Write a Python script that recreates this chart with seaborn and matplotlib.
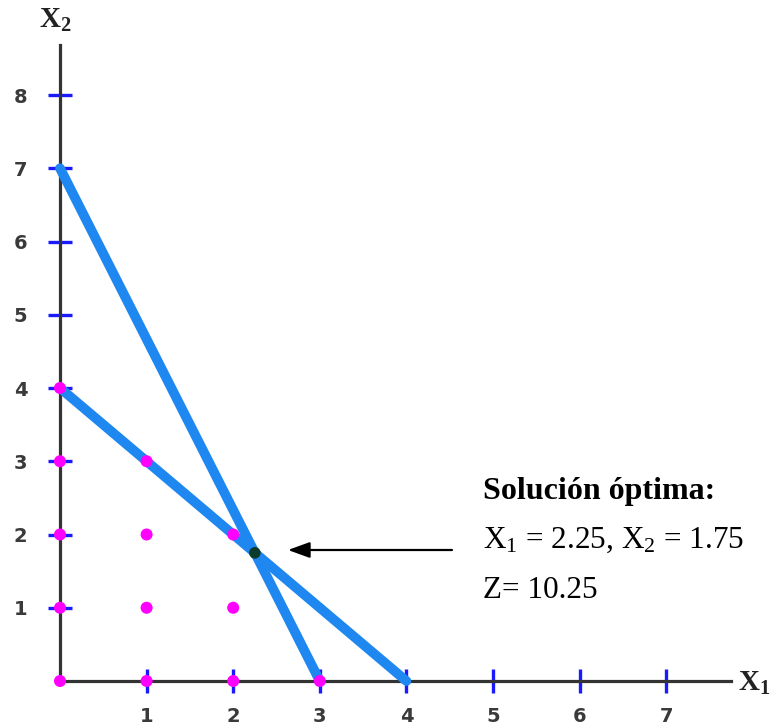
import numpy as np
import pandas as pd
import matplotlib
matplotlib.use("Agg")
import matplotlib.pyplot as plt
import seaborn as sns

# --- data ---
x_ticks = [1, 2, 3, 4, 5, 6, 7]
y_ticks = [1, 2, 3, 4, 5, 6, 7, 8]
# constraint 1: 7 x1 + 3 x2 = 21
c1_x1 = [0, 3]
c1_x2 = [7, 0]
# constraint 2: x1 + x2 = 4
c2_x1 = [0, 4]
c2_x2 = [4, 0]
# integer feasible points
pts_x1 = [0, 1, 2, 3, 0, 1, 2, 0, 1, 2, 0, 1, 0]
pts_x2 = [0, 0, 0, 0, 1, 1, 1, 2, 2, 2, 3, 3, 4]
opt_x1 = [2.25]
opt_x2 = [1.75]
title_txt = "Solución óptima:"
sol_txt = "X$_1$ = 2.25, X$_2$ = 1.75"
z_txt = "Z= 10.25"

sns.set_theme(style="white")
plt.rcParams["mathtext.fontset"] = "custom"
plt.rcParams["mathtext.rm"] = "Liberation Serif"
plt.rcParams["mathtext.it"] = "Liberation Serif:italic"
plt.rcParams["mathtext.bf"] = "Liberation Serif:bold"

W, H = 771, 728
fig = plt.figure(figsize=(W / 100, H / 100), dpi=100)
ax = fig.add_axes([0, 0, 1, 1])

# pixel mapping
x0px, y0px = 60, 681
ux, uy = 86.6, 73.25
ax.set_xlim(-x0px / ux, (W - x0px) / ux)
ax.set_ylim(-(H - y0px) / uy, y0px / uy)

blue = "#1e88f0"
df1 = pd.DataFrame({"x1": c1_x1, "x2": c1_x2})
df2 = pd.DataFrame({"x1": c2_x1, "x2": c2_x2})
sns.lineplot(data=df1, x="x1", y="x2", ax=ax, color=blue, lw=7,
             solid_capstyle="round", zorder=3, sort=False)
sns.lineplot(data=df2, x="x1", y="x2", ax=ax, color=blue, lw=7,
             solid_capstyle="round", zorder=3, sort=False)

dfp = pd.DataFrame({"x1": pts_x1, "x2": pts_x2})
sns.scatterplot(data=dfp, x="x1", y="x2", ax=ax, color="#ff00ff", s=75,
                edgecolor="none", zorder=5)
sns.scatterplot(x=opt_x1, y=opt_x2, ax=ax, color="#0d3b2b", s=70,
                edgecolor="none", zorder=6)

# axes (spines through origin)
for s in ["top", "right"]:
    ax.spines[s].set_visible(False)
for s in ["left", "bottom"]:
    ax.spines[s].set_position(("data", 0))
    ax.spines[s].set_color("#333333")
    ax.spines[s].set_linewidth(2.3)
ax.spines["left"].set_bounds(0, (y0px - 45) / uy)
ax.spines["bottom"].set_bounds(0, (731 - x0px) / ux)
ax.spines["left"].set_zorder(1)
ax.spines["bottom"].set_zorder(1)

ax.set_xticks(x_ticks)
ax.set_yticks(y_ticks)
ax.set_xticklabels([str(v) for v in x_ticks])
ax.set_yticklabels([str(v) for v in y_ticks])
ax.tick_params(axis="both", which="major", bottom=True, left=True,
               direction="inout", length=17, width=2.4,
               color="#1a1aff", labelcolor="#3a3a3a", labelsize=14)
ax.tick_params(axis="x", pad=10)
ax.tick_params(axis="y", pad=15)
for lab in ax.get_xticklabels() + ax.get_yticklabels():
    lab.set_fontweight("bold")
    lab.set_family("DejaVu Sans")
ax.set_xlabel("")
ax.set_ylabel("")

# axis names
ax.text((754 - x0px) / ux, -2 / uy, "X$_\\mathbf{1}$", fontsize=21, fontweight="bold",
        family="Liberation Serif", ha="center", va="center", color="#222222")
ax.text(-5 / ux, (y0px - 20) / uy, "X$_\\mathbf{2}$", fontsize=21, fontweight="bold",
        family="Liberation Serif", ha="center", va="center", color="#222222")

# annotation arrow
ax.annotate("", xy=((288 - x0px) / ux, (y0px - 550) / uy),
            xytext=((452 - x0px) / ux, (y0px - 550) / uy),
            arrowprops=dict(arrowstyle="-|>,head_length=1.1,head_width=0.4",
                        color="black", lw=1.6, shrinkA=0, shrinkB=0))

tx = (483 - x0px) / ux
ax.text(tx, (y0px - 491) / uy, title_txt, fontsize=23, fontweight="bold",
        family="Liberation Serif", ha="left", va="center", color="black")
ax.text(tx, (y0px - 540) / uy, sol_txt, fontsize=22.5,
        family="Liberation Serif", ha="left", va="center", color="black")
ax.text(tx, (y0px - 590) / uy, z_txt, fontsize=22.5,
        family="Liberation Serif", ha="left", va="center", color="black")

fig.savefig("out.png", dpi=100, facecolor="white")
